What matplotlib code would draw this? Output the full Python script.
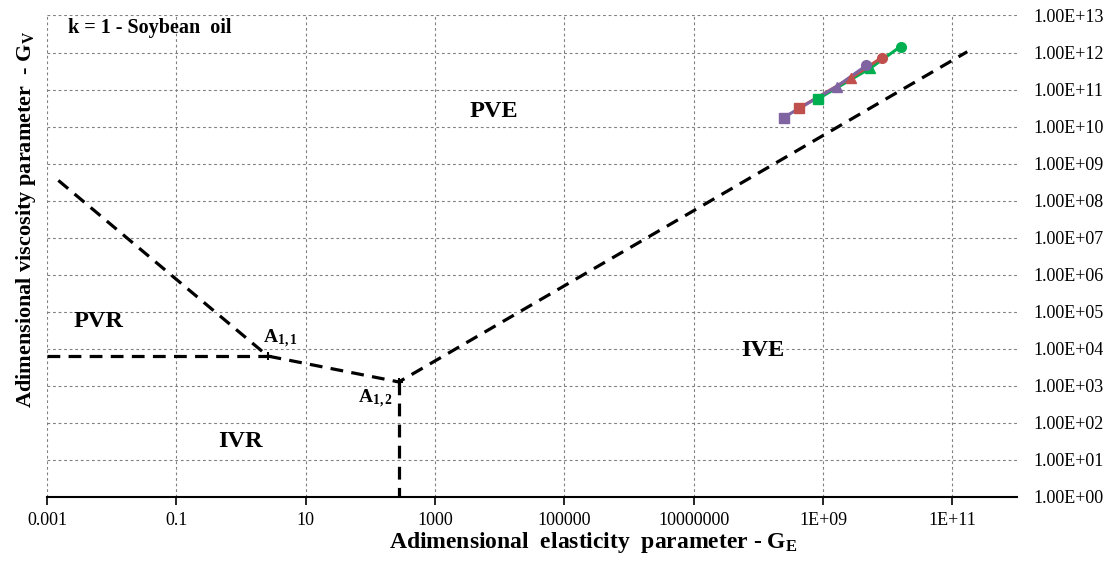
import math
import matplotlib
matplotlib.use('Agg')
import matplotlib.pyplot as plt
from matplotlib.ticker import FixedLocator, FuncFormatter, NullLocator

plt.rcParams['font.family'] = ['Liberation Serif', 'DejaVu Serif']
plt.rcParams['mathtext.fontset'] = 'custom'
plt.rcParams['mathtext.rm'] = 'Liberation Serif'
plt.rcParams['mathtext.bf'] = 'Liberation Serif:bold'
plt.rcParams['mathtext.it'] = 'Liberation Serif:italic'

# regime boundaries
bound_x = [0.0015, 2.6, 276, 1.7e11]
bound_y = [3.5e8, 6300, 1260, 1.05e12]
horiz_x = [0.001, 2.6]
horiz_y = [6300, 6300]
vert_x = [276, 276]
vert_y = [1260, 1]

# measured series (square, triangle, circle)
purple_x = [2.45e8, 1.62e9, 4.7e9]
purple_y = [1.75e10, 1.2e11, 4.5e11]
red_x = [4.2e8, 2.75e9, 8.1e9]
red_y = [3.1e10, 2.1e11, 7.3e11]
green_x = [8.5e8, 5.3e9, 1.58e10]
green_y = [5.7e10, 3.7e11, 1.45e12]
markers = ['s', '^', 'o']

x_ticks = [1e-3, 1e-1, 1e1, 1e3, 1e5, 1e7, 1e9, 1e11]
x_ticklabels = ['0.001', '0.1', '10', '1000', '100000', '10000000', '1E+09', '1E+11']
y_ticks = [10.0 ** k for k in range(0, 14)]

fig = plt.figure(figsize=(11.08, 5.61), dpi=100)
ax = fig.add_axes([0.0424, 0.1146, 0.8755, 0.8578])
ax.set_xscale('log')
ax.set_yscale('log')
ax.set_xlim(1e-3, 1e12)
ax.set_ylim(1, 1e13)

grid_kw = dict(color='#808080', lw=0.8, ls=(0, (2.5, 2.5)), zorder=0)
for xv in x_ticks:
    ax.axvline(xv, **grid_kw)
for yv in y_ticks:
    ax.axhline(yv, **grid_kw)

dash_kw = dict(color='black', lw=2.3, ls=(0, (4, 2.6)), zorder=3)
ax.plot(bound_x, bound_y, **dash_kw)
ax.plot(horiz_x, horiz_y, **dash_kw)
ax.plot(vert_x, vert_y, **dash_kw)
ax.plot([2.6, 276], [6300, 1260], 'k+', ms=6, mew=1.5, zorder=4)

for xs, ys, col in [(green_x, green_y, '#00B050'), (red_x, red_y, '#C0504D'),
                    (purple_x, purple_y, '#8064A2')]:
    ax.plot(xs, ys, color=col, lw=2.2, zorder=5)
    for xv, yv, m in zip(xs, ys, markers):
        ax.plot(xv, yv, marker=m, color=col, ms=7, ls='none', zorder=6)

for s in ['top', 'left', 'right']:
    ax.spines[s].set_visible(False)
ax.spines['bottom'].set_linewidth(1.5)

ax.xaxis.set_major_locator(FixedLocator(x_ticks))
ax.xaxis.set_minor_locator(NullLocator())
ax.set_xticklabels(x_ticklabels)
ax.tick_params(axis='x', direction='out', length=6, width=1.2, labelsize=13, pad=5)

ax.yaxis.tick_right()
ax.yaxis.set_major_locator(FixedLocator(y_ticks))
ax.yaxis.set_minor_locator(NullLocator())
ax.yaxis.set_major_formatter(FuncFormatter(lambda v, p: '1.00E+%02d' % round(math.log10(v))))
ax.tick_params(axis='y', length=0, labelsize=13, pad=11.5)

ax.set_xlabel(r'Adimensional  elasticity  parameter - $\mathbf{G_E}$',
              fontsize=17, fontweight='bold')
ax.xaxis.set_label_coords(0.563, -0.07)
ax.yaxis.set_label_position('left')
ax.set_ylabel(r'Adimensional viscosity parameter  - $\mathbf{G_V}$',
              fontsize=16, fontweight='bold')
ax.yaxis.set_label_coords(-0.009, 0.577)

ax.text(10 ** -2.67, 10 ** 12.67, 'k = 1 - Soybean  oil', fontsize=14.5,
        fontweight='bold', ha='left', va='center')
for txt, lx, ly in [('PVE', 3.91, 10.4), ('PVR', -2.21, 4.72),
                    ('IVE', 8.07, 3.94), ('IVR', -0.01, 1.5)]:
    ax.text(10 ** lx, 10 ** ly, txt, fontsize=17.5, fontweight='bold',
            ha='center', va='center')
ax.text(10 ** 0.6, 10 ** 4.27, r'$\mathbf{A_{1,1}}$', fontsize=14,
        ha='center', va='center')
ax.text(10 ** 2.07, 10 ** 2.64, r'$\mathbf{A_{1,2}}$', fontsize=14,
        ha='center', va='center')

fig.savefig('out.png', dpi=100)
